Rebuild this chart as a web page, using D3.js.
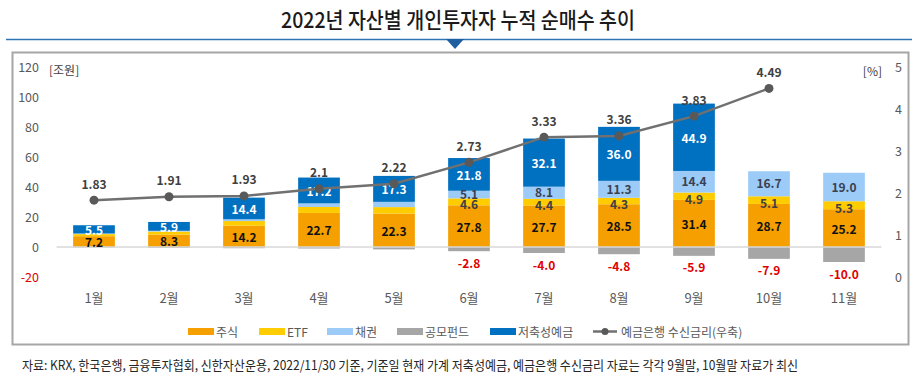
<!DOCTYPE html>
<html>
<head>
<meta charset="utf-8">
<script src="https://cdn.jsdelivr.net/npm/d3@7"></script>
<style>
  html, body { margin: 0; padding: 0; background: #fff; }
  svg { display: block; font-family: "Noto Sans CJK KR", "Noto Sans", sans-serif; }
</style>
</head>
<body>
<svg id="chart" width="917" height="377"></svg>
<script>
// ---------- data ----------
const months   = ["1월","2월","3월","4월","5월","6월","7월","8월","9월","10월","11월"];
const stocks   = [7.2, 8.3, 14.2, 22.7, 22.3, 27.8, 27.7, 28.5, 31.4, 28.7, 25.2];
const etf      = [1.4, 2.0, 3.1, 4.0, 4.3, 4.6, 4.4, 4.3, 4.9, 5.1, 5.3];
const bonds    = [0.4, 0.5, 1.2, 2.4, 3.5, 5.1, 8.1, 11.3, 14.4, 16.7, 19.0];
const funds    = [-0.3, -0.6, -0.8, -1.0, -1.6, -2.8, -4.0, -4.8, -5.9, -7.9, -10.0];
const deposits = [5.5, 5.9, 14.4, 17.2, 17.3, 21.8, 32.1, 36.0, 44.9, null, null];
const rates    = [1.83, 1.91, 1.93, 2.1, 2.22, 2.73, 3.33, 3.36, 3.83, 4.49, null];
const rateLabels = ["1.83","1.91","1.93","2.1","2.22","2.73","3.33","3.36","3.83","4.49",""];
const leftTicks  = [-20, 0, 20, 40, 60, 80, 100, 120];
const rightTicks = [0, 1, 2, 3, 4, 5];
const seriesNames = ["주식","ETF","채권","공모펀드","저축성예금"];
const lineName = "예금은행 수신금리(우축)";
const title = "2022년 자산별 개인투자자 누적 순매수 추이";
const footnote = "자료: KRX, 한국은행, 금융투자협회, 신한자산운용, 2022/11/30 기준, 기준일 현재 가계 저축성예금, 예금은행 수신금리 자료는 각각 9월말, 10월말 자료가 최신";

// ---------- styles ----------
const colors = { "주식":"#F59F00", "ETF":"#FFCC00", "채권":"#9DCBF7", "공모펀드":"#A6A6A6", "저축성예금":"#0070C0" };
const labelColors = { "주식":"#111", "ETF":"#404040", "채권":"#3b4050", "공모펀드":"#E00000", "저축성예금":"#fff" };
// labels for small segments are hidden in early months
const labelFrom = { "주식":0, "ETF":5, "채권":5, "공모펀드":5, "저축성예금":0 };
const labelNudge = { "주식":0, "ETF":2, "채권":-1, "공모펀드":0, "저축성예금":0 };

const fmt1 = v => v.toFixed(1);   // plain hyphen minus like the reference

const svg = d3.select("#chart");

// rows for stacking
const rows = months.map((m, i) => ({
  month: m,
  "주식": stocks[i], "ETF": etf[i], "채권": bonds[i],
  "공모펀드": funds[i], "저축성예금": deposits[i] == null ? 0 : deposits[i]
}));

const stack = d3.stack().keys(seriesNames).offset(d3.stackOffsetDiverging);
const stacked = stack(rows);

// scales
const x = d3.scaleBand().domain(months).range([56.5, 881.5]).paddingInner(0).paddingOuter(0);
const barW = x.bandwidth() * 0.556;
const cx = m => x(m) + x.bandwidth() / 2;
const yL = d3.scaleLinear().domain([-20, 120]).range([277, 67]);
const yR = d3.scaleLinear().domain([0, 5]).range([277, 67]);

// ---------- header ----------
svg.append("text")
  .attr("x", 458).attr("y", 18)
  .attr("text-anchor", "middle").attr("dominant-baseline", "central")
  .attr("font-size", 22).attr("font-weight", 500).attr("fill", "#1a1a1a")
  .attr("textLength", 354).attr("lengthAdjust", "spacingAndGlyphs")
  .text(title);
svg.append("line").attr("x1", 6).attr("x2", 912).attr("y1", 39.5).attr("y2", 39.5)
  .attr("stroke", "#2E75B6").attr("stroke-width", 1.5);
svg.append("path").attr("d", "M446,39 L464,39 L455,49 Z").attr("fill", "#1F5FA0");
svg.append("rect").attr("x", 12.5).attr("y", 52.5).attr("width", 896).attr("height", 292)
  .attr("fill", "none").attr("stroke", "#A6A6A6").attr("stroke-width", 2);

// ---------- axes ----------
const axL = svg.append("g").attr("transform", "translate(45,0)")
  .call(d3.axisLeft(yL).tickValues(leftTicks).tickSize(0).tickPadding(6).tickFormat(d => String(d)));
axL.select(".domain").remove();
axL.selectAll("text").attr("font-size", 12.5).attr("font-family", "\"Noto Sans CJK KR\", sans-serif")
  .attr("fill", d => d < 0 ? "#E00000" : "#595959");

const axR = svg.append("g").attr("transform", "translate(889,0)")
  .call(d3.axisRight(yR).tickValues(rightTicks).tickSize(0).tickPadding(6).tickFormat(d => String(d)));
axR.select(".domain").remove();
axR.selectAll("text").attr("font-size", 12.5).attr("font-family", "\"Noto Sans CJK KR\", sans-serif").attr("fill", "#595959");

svg.append("text").attr("x", 49).attr("y", 69).attr("dominant-baseline", "central")
  .attr("font-size", 12).attr("fill", "#404040").text("[조원]");
svg.append("text").attr("x", 882).attr("y", 70).attr("text-anchor", "end").attr("dominant-baseline", "central")
  .attr("font-size", 12).attr("fill", "#404040").text("[%]");

// month labels
svg.append("g").selectAll("text").data(months).join("text")
  .attr("x", d => cx(d)).attr("y", 297)
  .attr("text-anchor", "middle").attr("dominant-baseline", "central")
  .attr("font-size", 13).attr("fill", "#595959").text(d => d);

// ---------- bars ----------
const gBars = svg.append("g");
stacked.forEach(s => {
  gBars.append("g").selectAll("rect").data(s).join("rect")
    .attr("x", d => cx(d.data.month) - barW / 2)
    .attr("width", barW)
    .attr("y", d => yL(Math.max(d[0], d[1])))
    .attr("height", d => Math.abs(yL(d[0]) - yL(d[1])))
    .attr("fill", colors[s.key]);
});

// zero line
svg.append("line").attr("x1", 56.5).attr("x2", 881.5).attr("y1", yL(0)).attr("y2", yL(0))
  .attr("stroke", "#D9D9D9").attr("stroke-width", 1.5);

// segment labels
const gLab = svg.append("g");
stacked.forEach(s => {
  const key = s.key;
  gLab.append("g").selectAll("text")
    .data(s.filter((d, i) => i >= labelFrom[key] && d.data[key] !== 0))
    .join("text")
    .attr("x", d => cx(d.data.month))
    .attr("y", d => key === "공모펀드" ? yL(d[0]) + 11 : (yL(d[0]) + yL(d[1])) / 2 + labelNudge[key])
    .attr("text-anchor", "middle").attr("dominant-baseline", "central")
    .attr("font-size", 12).attr("font-weight", 700)
    .attr("fill", labelColors[key])
    .text(d => fmt1(d.data[key]));
});

// ---------- line ----------
const lineData = months.map((m, i) => ({ m, v: rates[i], lab: rateLabels[i] })).filter(d => d.v != null);
svg.append("path").datum(lineData)
  .attr("d", d3.line().x(d => cx(d.m)).y(d => yR(d.v)))
  .attr("fill", "none").attr("stroke", "#707070").attr("stroke-width", 2.5);
svg.append("g").selectAll("circle").data(lineData).join("circle")
  .attr("cx", d => cx(d.m)).attr("cy", d => yR(d.v)).attr("r", 4.5).attr("fill", "#595959");
svg.append("g").selectAll("text").data(lineData).join("text")
  .attr("x", d => cx(d.m)).attr("y", d => yR(d.v) - 17)
  .attr("text-anchor", "middle").attr("dominant-baseline", "central")
  .attr("font-size", 12).attr("font-weight", 700).attr("fill", "#404040")
  .text(d => d.lab);

// ---------- legend ----------
const legendX = [188, 259, 327, 397, 490];
const gLeg = svg.append("g");
seriesNames.forEach((n, i) => {
  gLeg.append("rect").attr("x", legendX[i]).attr("y", 328).attr("width", 26).attr("height", 7).attr("fill", colors[n]);
  gLeg.append("text").attr("x", legendX[i] + 28).attr("y", 331.5).attr("dominant-baseline", "central")
    .attr("font-size", 12).attr("fill", "#595959").text(n);
});
gLeg.append("line").attr("x1", 593).attr("x2", 617).attr("y1", 331.5).attr("y2", 331.5)
  .attr("stroke", "#707070").attr("stroke-width", 2.5);
gLeg.append("circle").attr("cx", 605).attr("cy", 331.5).attr("r", 3.5).attr("fill", "#595959");
gLeg.append("text").attr("x", 621).attr("y", 331.5).attr("dominant-baseline", "central")
  .attr("font-size", 12).attr("fill", "#595959").text(lineName);

// ---------- footnote ----------
svg.append("text").attr("x", 22).attr("y", 364).attr("dominant-baseline", "central")
  .attr("font-size", 13).attr("fill", "#262626")
  .attr("textLength", 776).attr("lengthAdjust", "spacingAndGlyphs")
  .text(footnote);
</script>
</body>
</html>
